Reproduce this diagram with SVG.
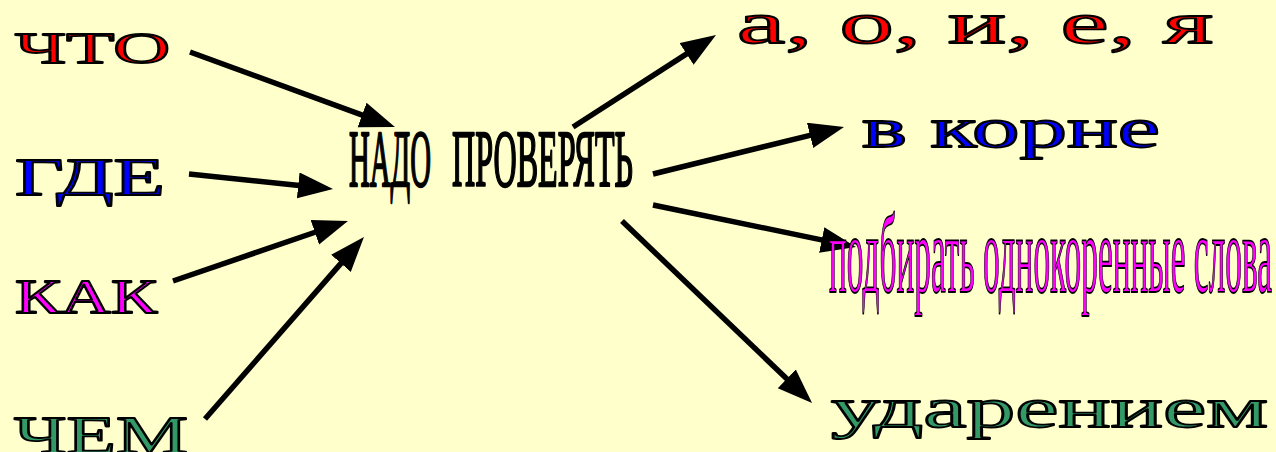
<svg xmlns="http://www.w3.org/2000/svg" width="1276" height="452" viewBox="0 0 1276 452">
<defs>
<style>
.w{font-family:"Liberation Serif","Times New Roman",serif;stroke:#000;stroke-width:1.8;stroke-linejoin:round}
.red{fill:#FF0000}.blue{fill:#0000FF}.mag{fill:#FF00FF}.grn{fill:#339966}.blk{fill:#000;stroke-width:2.4}
.c{stroke:#000;stroke-width:5.5;fill:none;marker-end:url(#ah)}
</style>
<marker id="ah" markerUnits="userSpaceOnUse" markerWidth="40" markerHeight="30" refX="1" refY="13" orient="auto" viewBox="0 0 40 30">
<path d="M0,0 L35,13 L0,26 Z" fill="#000"/>
</marker>
</defs>
<rect width="1276" height="452" fill="#FFFFCC"/>
<g id="connectors">
<line class="c" x1="190" y1="52" x2="363" y2="115.3"/>
<line class="c" x1="189" y1="174" x2="299.2" y2="185.5"/>
<line class="c" x1="173" y1="281" x2="315.8" y2="232"/>
<line class="c" x1="205" y1="419" x2="341.6" y2="262.6"/>
<line class="c" x1="573" y1="127" x2="687.4" y2="53.4"/>
<line class="c" x1="653" y1="174" x2="811" y2="135.1"/>
<line class="c" x1="653" y1="205" x2="822.7" y2="240.1"/>
<line class="c" x1="622" y1="221" x2="787.5" y2="379.5"/>
</g>
<g id="n-chto"><text class="w red" x="15" y="63" font-size="45" textLength="155" lengthAdjust="spacingAndGlyphs">ЧТО</text></g>
<g id="n-gde"><text class="w blue" x="15" y="195" font-size="53" textLength="150" lengthAdjust="spacingAndGlyphs">ГДЕ</text></g>
<g id="n-kak"><text class="w mag" x="15" y="313" font-size="48" textLength="142" lengthAdjust="spacingAndGlyphs">КАК</text></g>
<g id="n-chem"><text class="w grn" x="14" y="453" font-size="53" textLength="174" lengthAdjust="spacingAndGlyphs">ЧЕМ</text></g>
<g id="n-center">
<text class="w blk" x="349" y="186" font-size="80" textLength="82" lengthAdjust="spacingAndGlyphs">НАДО</text>
<text class="w blk" x="452" y="186" font-size="80" textLength="181" lengthAdjust="spacingAndGlyphs">ПРОВЕРЯТЬ</text>
</g>
<g id="n-vowels"><text class="w red" x="737" y="43" font-size="60" textLength="476" lengthAdjust="spacingAndGlyphs">а, о, и, е, я</text></g>
<g id="n-koren"><text class="w blue" x="862" y="147" font-size="56" textLength="298" lengthAdjust="spacingAndGlyphs">в корне</text></g>
<g id="n-podbir"><text class="w mag" x="829" y="292" font-size="113" textLength="443" lengthAdjust="spacingAndGlyphs">подбирать однокоренные слова</text></g>
<g id="n-udar"><text class="w grn" x="831" y="427" font-size="57" textLength="437" lengthAdjust="spacingAndGlyphs">ударением</text></g>
</svg>
